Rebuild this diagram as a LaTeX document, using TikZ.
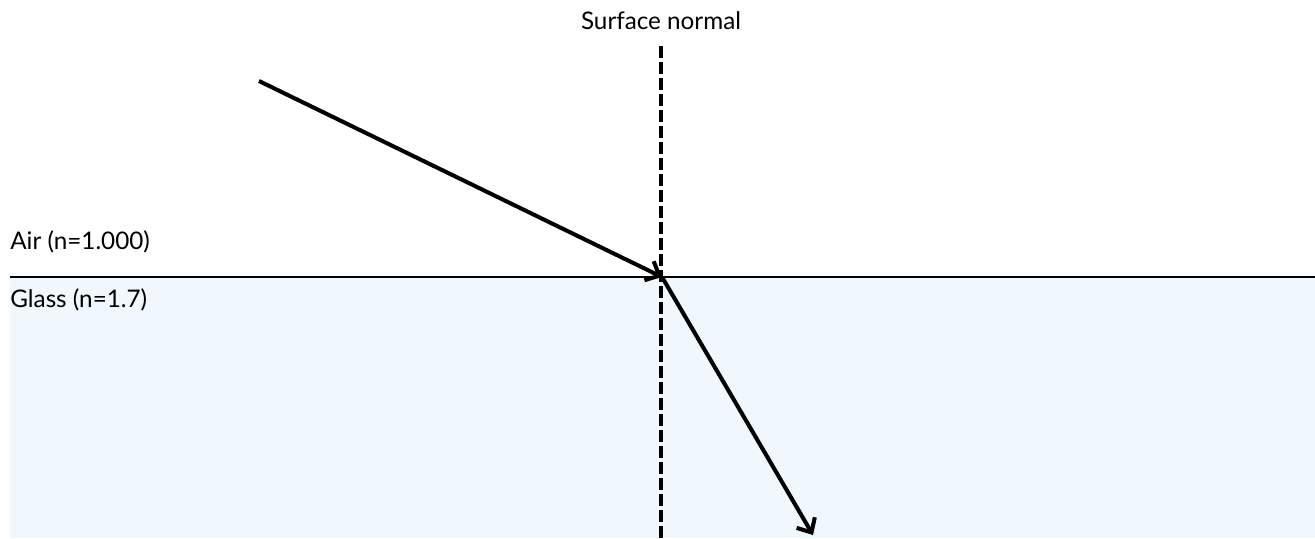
\documentclass[tikz,border=0pt]{standalone}
\usepackage{fontspec}
\setmainfont{Lato}
\usetikzlibrary{arrows.meta}
\definecolor{glassblue}{HTML}{F0F8FE}

\begin{document}
\begin{tikzpicture}[x=0.02cm, y=-0.02cm,
  every node/.style={font=\fontsize{13.8}{16}\selectfont, inner sep=0pt},
  ray/.style={line width=2.3pt, -{Straight Barb[length=6.5pt, width=12pt, line width=2.3pt]}},
  normalline/.style={line width=2.2pt, dash pattern=on 6.8pt off 2.3pt}]
\useasboundingbox (0,0) rectangle (1315,538);

% glass block
\fill[glassblue] (10,277) rectangle (1315,538);
\coordinate (L) at (10,277);
\coordinate (R) at (1315,277);
\draw[line width=1pt] (L) -- (R);

% labels
\node[anchor=west] (air) at (10,242) {Air (n=1.000)};
\node[anchor=west] (glass) at (10,300) {Glass (n=1.7)};
\node (normlabel) at (661,21) {Surface normal};

% surface normal
\coordinate (ntop) at (661,46);
\coordinate (nbot) at (661,538);
\draw[normalline] (ntop) -- (nbot);

% rays
\coordinate (src) at (259,81);
\coordinate (hit) at (662,277);
\coordinate (out) at (813,535);
\draw[ray] (src) -- (hit);
\draw[ray] (hit) -- (out);
\end{tikzpicture}
\end{document}
